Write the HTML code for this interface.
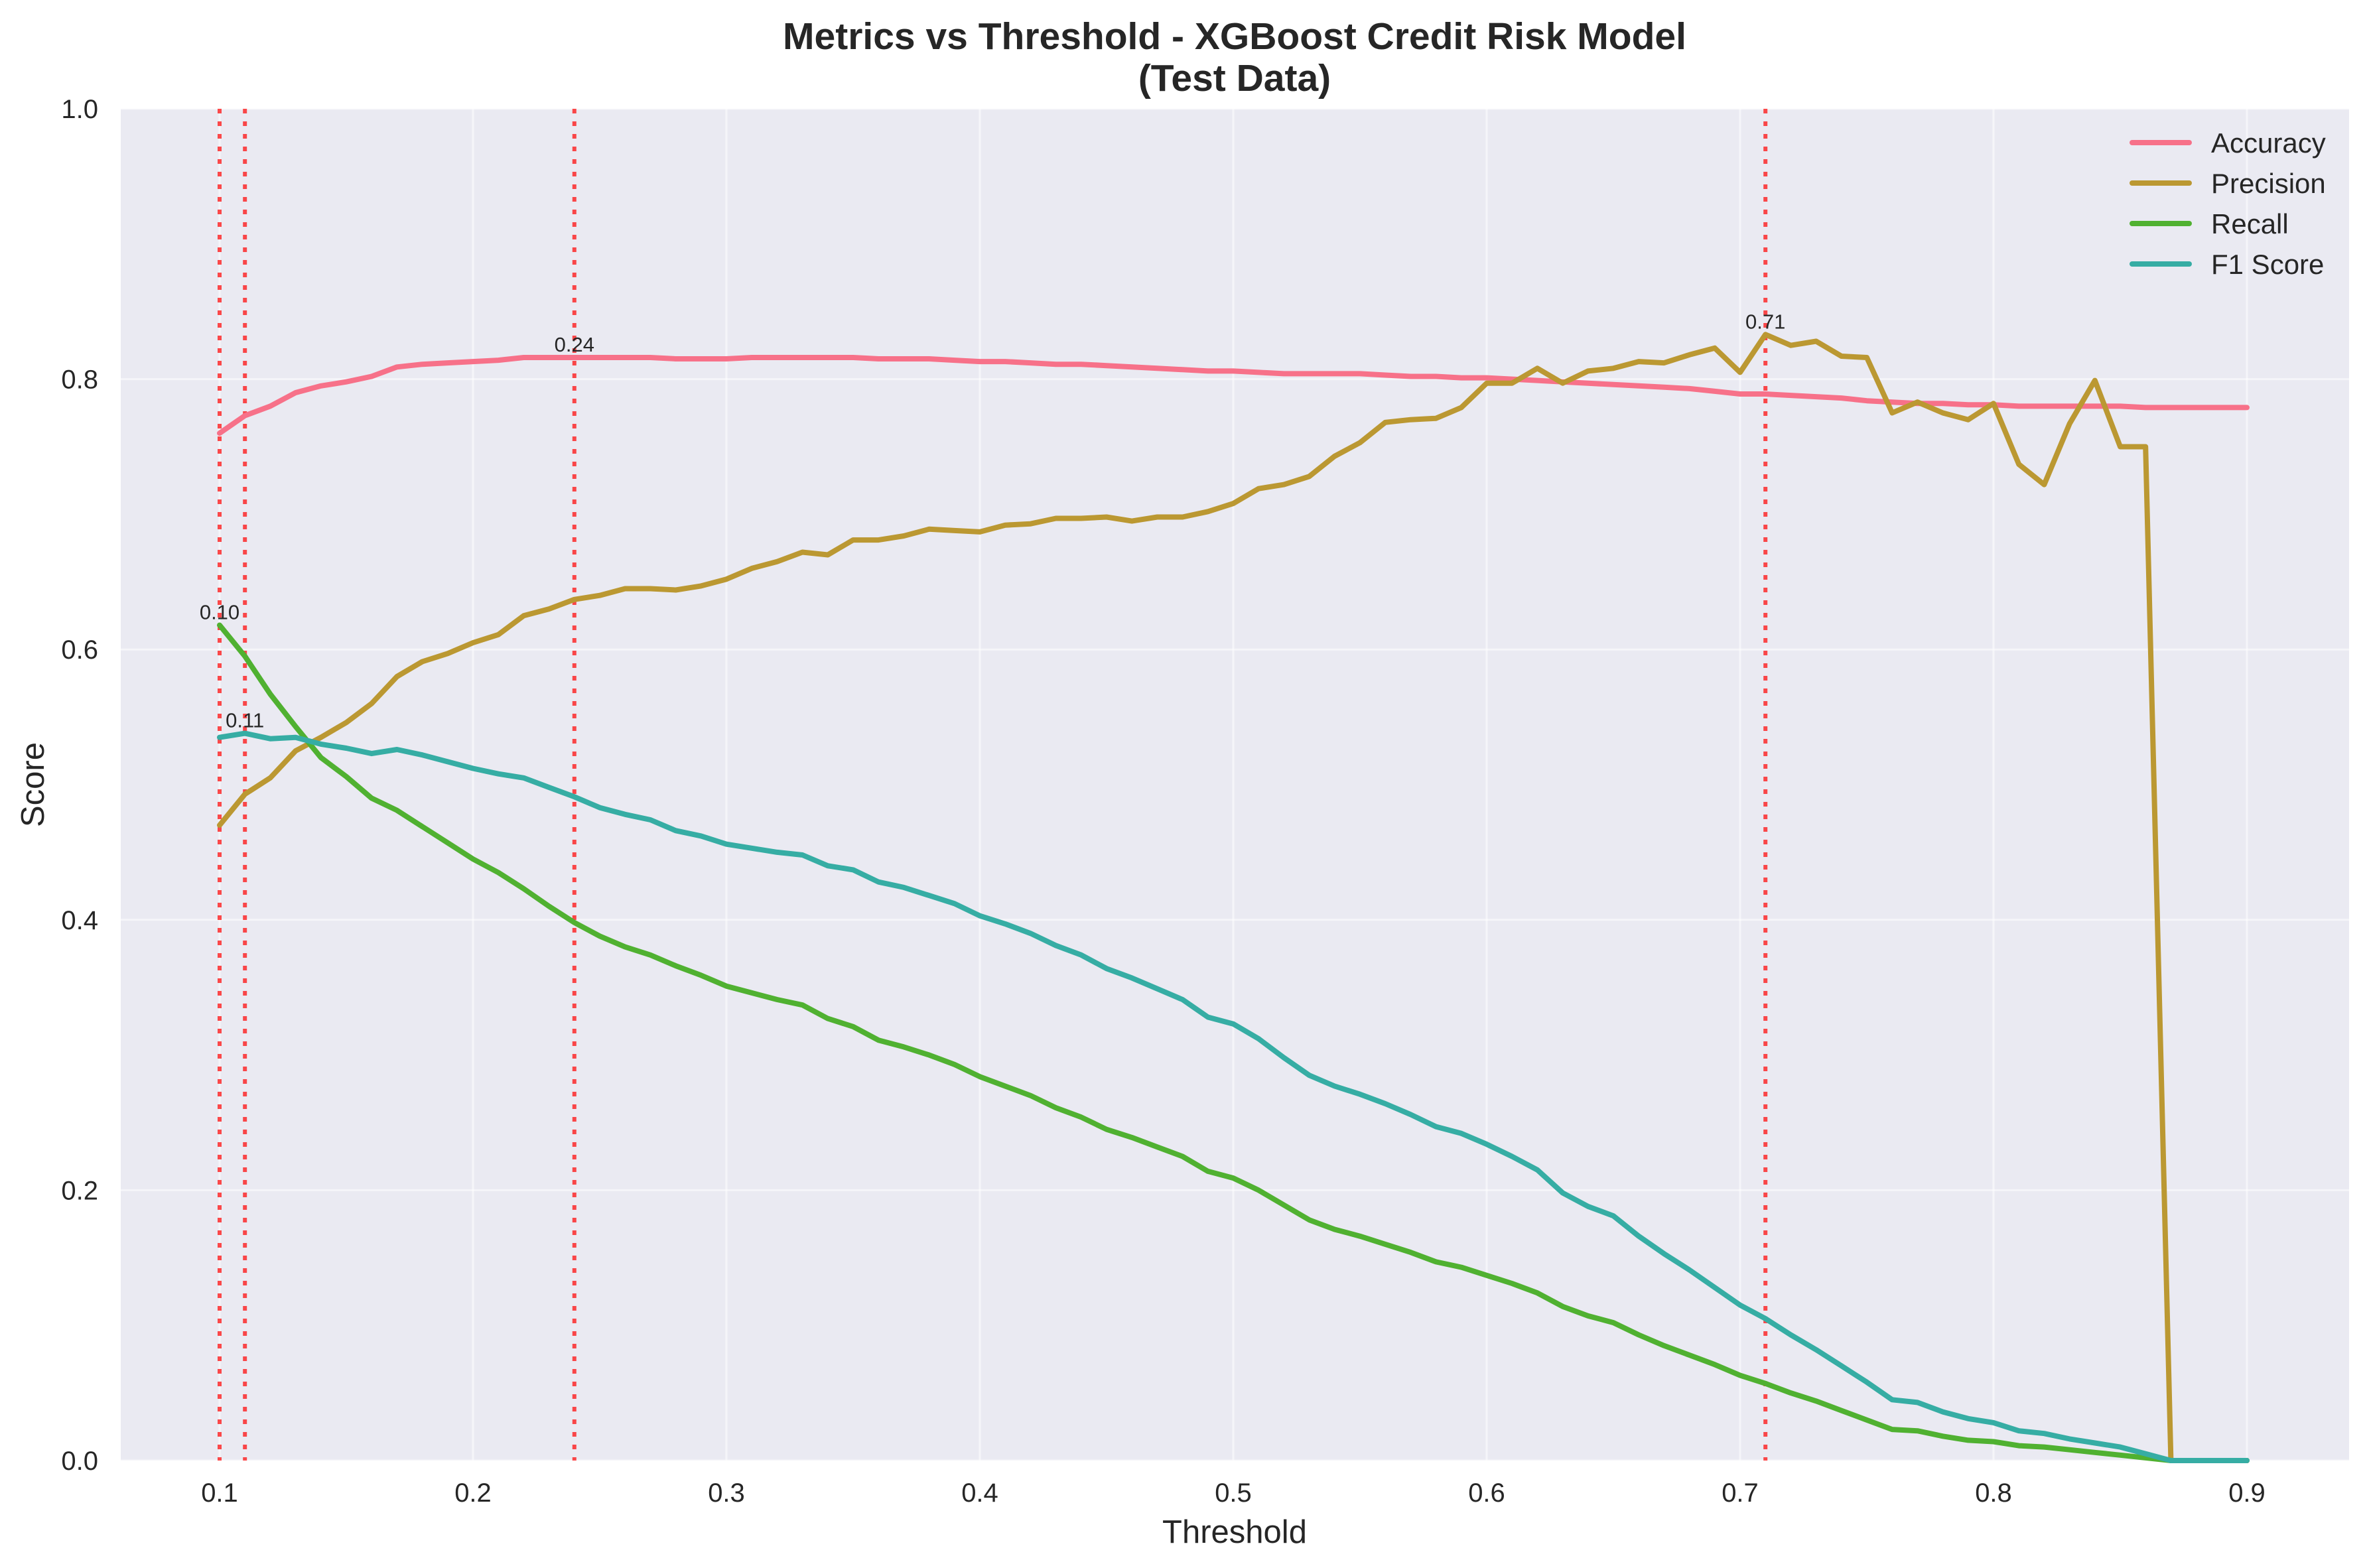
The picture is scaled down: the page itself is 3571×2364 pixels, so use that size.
<!DOCTYPE html>
<html><head><meta charset="utf-8"><style>
html,body{margin:0;padding:0;background:#fff;}
svg{display:block;font-family:"Liberation Sans",Arial,sans-serif;}
</style></head><body>
<svg id="chart" width="3571" height="2364" viewBox="0 0 3571 2364" xmlns="http://www.w3.org/2000/svg">
<rect x="0" y="0" width="3571" height="2364" fill="#ffffff"/>
<rect x="182" y="164" width="3359" height="2038" fill="#eaeaf2"/>
<g id="grid"></g>
<g id="vlines"></g>
<g id="series"></g>
<g id="annots"></g>
<g id="ticks"></g>
<text x="1861" y="74" text-anchor="middle" font-size="57" font-weight="bold" fill="#262626">Metrics vs Threshold - XGBoost Credit Risk Model</text>
<text x="1861" y="137" text-anchor="middle" font-size="57" font-weight="bold" fill="#262626">(Test Data)</text>
<text x="1861" y="2326" text-anchor="middle" font-size="49" fill="#262626">Threshold</text>
<text x="0" y="0" transform="translate(66,1183) rotate(-90)" text-anchor="middle" font-size="49" fill="#262626">Score</text>
<g id="legend"></g>
</svg>
<script>
const thresholds = [];
for (let i = 0; i <= 80; i++) thresholds.push(+(0.10 + i * 0.01).toFixed(2));
const accuracy = [0.760,0.773,0.780,0.790,0.795,0.798,0.802,0.809,0.811,0.812,0.813,0.814,0.816,0.816,0.816,0.816,0.816,0.816,0.815,0.815,0.815,0.816,0.816,0.816,0.816,0.816,0.815,0.815,0.815,0.814,0.813,0.813,0.812,0.811,0.811,0.810,0.809,0.808,0.807,0.806,0.806,0.805,0.804,0.804,0.804,0.804,0.803,0.802,0.802,0.801,0.801,0.800,0.799,0.798,0.797,0.796,0.795,0.794,0.793,0.791,0.789,0.789,0.788,0.787,0.786,0.784,0.783,0.782,0.782,0.781,0.781,0.780,0.780,0.780,0.780,0.780,0.779,0.779,0.779,0.779,0.779];
const precision = [0.470,0.493,0.505,0.525,0.535,0.546,0.560,0.580,0.591,0.597,0.605,0.611,0.625,0.630,0.637,0.640,0.645,0.645,0.644,0.647,0.652,0.660,0.665,0.672,0.670,0.681,0.681,0.684,0.689,0.688,0.687,0.692,0.693,0.697,0.697,0.698,0.695,0.698,0.698,0.702,0.708,0.719,0.722,0.728,0.743,0.753,0.768,0.770,0.771,0.779,0.797,0.797,0.808,0.797,0.806,0.808,0.813,0.812,0.818,0.823,0.805,0.833,0.825,0.828,0.817,0.816,0.775,0.783,0.775,0.770,0.782,0.737,0.722,0.767,0.799,0.750,0.750,0.000,0.000,0.000,0.000];
const recall = [0.618,0.595,0.567,0.543,0.520,0.506,0.490,0.481,0.469,0.457,0.445,0.435,0.423,0.410,0.398,0.388,0.380,0.374,0.366,0.359,0.351,0.346,0.341,0.337,0.327,0.321,0.311,0.306,0.300,0.293,0.284,0.277,0.270,0.261,0.254,0.245,0.239,0.232,0.225,0.214,0.209,0.200,0.189,0.178,0.171,0.166,0.160,0.154,0.147,0.143,0.137,0.131,0.124,0.114,0.107,0.102,0.093,0.085,0.078,0.071,0.063,0.057,0.050,0.044,0.037,0.030,0.023,0.022,0.018,0.015,0.014,0.011,0.010,0.008,0.006,0.004,0.002,0.000,0.000,0.000,0.000];
const f1 = [0.535,0.538,0.534,0.535,0.530,0.527,0.523,0.526,0.522,0.517,0.512,0.508,0.505,0.498,0.491,0.483,0.478,0.474,0.466,0.462,0.456,0.453,0.450,0.448,0.440,0.437,0.428,0.424,0.418,0.412,0.403,0.397,0.390,0.381,0.374,0.364,0.357,0.349,0.341,0.328,0.323,0.312,0.298,0.285,0.277,0.271,0.264,0.256,0.247,0.242,0.234,0.225,0.215,0.198,0.188,0.181,0.166,0.153,0.141,0.128,0.115,0.105,0.093,0.082,0.070,0.058,0.045,0.043,0.036,0.031,0.028,0.022,0.020,0.016,0.013,0.010,0.005,0.000,0.000,0.000,0.000];
const seriesNames = ["Accuracy","Precision","Recall","F1 Score"];
const seriesColors = ["#f77189","#bb9832","#50b131","#36ada4"];
const markerThresholds = [0.10, 0.11, 0.24, 0.71];
const markerLabels = ["0.10","0.11","0.24","0.71"];
const markerValues = [0.618, 0.538, 0.816, 0.833];
const xTicks = [0.1,0.2,0.3,0.4,0.5,0.6,0.7,0.8,0.9];
const xTickLabels = ["0.1","0.2","0.3","0.4","0.5","0.6","0.7","0.8","0.9"];
const yTicks = [0,0.2,0.4,0.6,0.8,1.0];
const yTickLabels = ["0.0","0.2","0.4","0.6","0.8","1.0"];

const NS = "http://www.w3.org/2000/svg";
const X0 = 182, X1 = 3541, Y0 = 164, Y1 = 2202;
function xs(v){ return 331 + (v - 0.1) * 3820; }
function ys(v){ return Y1 - v * (Y1 - Y0); }
function mk(tag, attrs, parent){ const e = document.createElementNS(NS, tag); for (const k in attrs) e.setAttribute(k, attrs[k]); parent.appendChild(e); return e; }

const grid = document.getElementById('grid');
xTicks.forEach(t => {
  const l = mk('line', {x1: xs(t), x2: xs(t), y1: Y0, y2: Y1, stroke: '#ffffff', 'stroke-width': 3, 'stroke-opacity': 0.5}, grid);
  
  
});
yTicks.forEach(t => {
  const l = mk('line', {x1: X0, x2: X1, y1: ys(t), y2: ys(t), stroke: '#ffffff', 'stroke-width': 3, 'stroke-opacity': 0.5}, grid);
  
  
});

const vl = document.getElementById('vlines');
markerThresholds.forEach(t => {
  const l = mk('line', {x1: xs(t), x2: xs(t), y1: Y0, y2: Y1, stroke: '#ff0000', 'stroke-opacity': 0.7, 'stroke-width': 6, 'stroke-dasharray': '7 12'}, vl);
  
  
});

const sg = document.getElementById('series');
[accuracy, precision, recall, f1].forEach((arr, i) => {
  const d = arr.map((v, j) => (j ? 'L' : 'M') + xs(thresholds[j]).toFixed(1) + ' ' + ys(v).toFixed(1)).join(' ');
  const p = mk('path', {d: d, fill: 'none', stroke: seriesColors[i], 'stroke-width': 8, 'stroke-linejoin': 'round', 'stroke-linecap': 'round'}, sg);
  
  
});

const an = document.getElementById('annots');
markerThresholds.forEach((t, i) => {
  const tx = mk('text', {x: xs(t), y: ys(markerValues[i]) - 9, 'text-anchor': 'middle', 'font-size': 31, fill: '#262626'}, an);
  tx.textContent = markerLabels[i];
  
  
});

const tk = document.getElementById('ticks');
xTicks.forEach((t, i) => {
  const tx = mk('text', {x: xs(t), y: 2264, 'text-anchor': 'middle', 'font-size': 40, fill: '#262626'}, tk);
  tx.textContent = xTickLabels[i];
  
  
});
yTicks.forEach((t, i) => {
  const tx = mk('text', {x: 148, y: ys(t) + 14, 'text-anchor': 'end', 'font-size': 40, fill: '#262626'}, tk);
  tx.textContent = yTickLabels[i];
  
  
});

const lg = document.getElementById('legend');
seriesNames.forEach((n, i) => {
  const y = 215 + i * 61;
  const l = mk('line', {x1: 3214, x2: 3300, y1: y, y2: y, stroke: seriesColors[i], 'stroke-width': 8, 'stroke-linecap': 'round'}, lg);
  
  
  const tx = mk('text', {x: 3333, y: y + 15, 'font-size': 42, fill: '#262626'}, lg);
  tx.textContent = n;
  
  
});
</script>
</body></html>
